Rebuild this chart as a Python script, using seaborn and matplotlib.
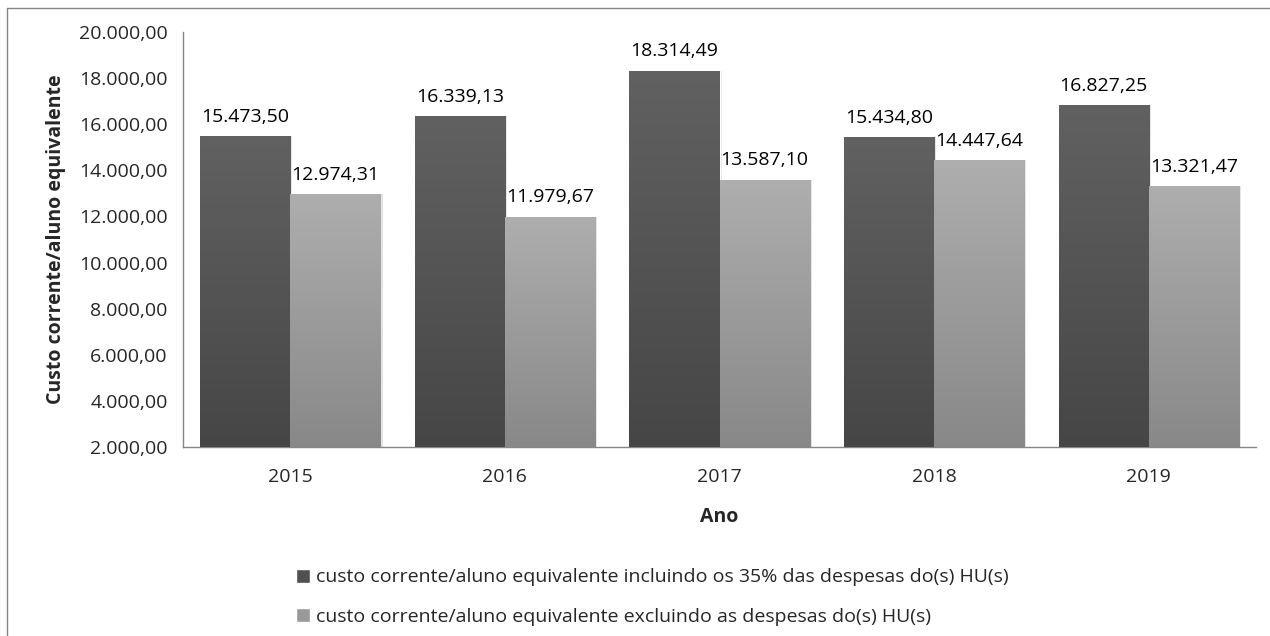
import numpy as np
import pandas as pd
import matplotlib
matplotlib.use("Agg")
import matplotlib.pyplot as plt
import seaborn as sns
from matplotlib.colors import LinearSegmentedColormap
from matplotlib.patches import Patch

anos = ["2015", "2016", "2017", "2018", "2019"]
com_hu = [15473.50, 16339.13, 18314.49, 15434.80, 16827.25]
sem_hu = [12974.31, 11979.67, 13587.10, 14447.64, 13321.47]
serie_com = "custo corrente/aluno equivalente incluindo os 35% das despesas do(s) HU(s)"
serie_sem = "custo corrente/aluno equivalente excluindo as despesas do(s) HU(s)"
yticks = [2000, 4000, 6000, 8000, 10000, 12000, 14000, 16000, 18000, 20000]


def br(v):
    # formato brasileiro 12.345,67
    s = f"{v:,.2f}"
    return s.replace(",", "X").replace(".", ",").replace("X", ".")


df = pd.DataFrame({
    "Ano": anos * 2,
    "valor": com_hu + sem_hu,
    "serie": [serie_com] * len(anos) + [serie_sem] * len(anos),
})

sns.set_style("white")
plt.rcParams["font.family"] = ["Open Sans", "DejaVu Sans"]
fs = 14

fig = plt.figure(figsize=(12.7, 6.36), dpi=100)
ax = fig.add_axes([183 / 1270, 1 - 447 / 636, (1256 - 183) / 1270, (447 - 32) / 636])

cores = {serie_com: "#545454", serie_sem: "#9c9c9c"}
sns.barplot(data=df, x="Ano", y="valor", hue="serie", palette=cores,
            width=0.84, ax=ax, legend=False, saturation=1)

ax.set_ylim(2000, 20000)
ax.set_xlim(-0.5, len(anos) - 0.5)

# gradiente vertical em cada barra, como no Excel
grad = [
    LinearSegmentedColormap.from_list("escuro", ["#464646", "#616161"]),
    LinearSegmentedColormap.from_list("claro", ["#888888", "#aeaeae"]),
]
g = np.linspace(0, 1, 256).reshape(-1, 1)
containers = list(ax.containers)
for i, cont in enumerate(containers):
    for bar in cont:
        x0, w = bar.get_x(), bar.get_width()
        y1 = bar.get_height()
        # sombra leve
        ax.bar(x0 + w / 2 + 0.01, y1 - 2000, width=w, bottom=2000,
               color="#e0e0e0", zorder=1, linewidth=0)
        bar.set_zorder(2)
        im = ax.imshow(g, cmap=grad[i], origin="lower", aspect="auto",
                       extent=(x0, x0 + w, 2000, y1), zorder=3)
        im.set_clip_path(bar)
        ax.annotate(br(y1), (x0 + w / 2, y1), xytext=(0, 7.5),
                    textcoords="offset points", ha="center", va="bottom",
                    fontsize=fs, color="black", zorder=5)

ax.set_ylim(2000, 20000)
ax.set_xlim(-0.5, len(anos) - 0.5)
ax.set_yticks(yticks)
ax.set_yticklabels([br(t) for t in yticks])
ax.set_xticks(range(len(anos)))
ax.set_xticklabels(anos)
ax.set_xticks(np.arange(-0.5, len(anos)), minor=True)
ax.tick_params(axis="x", which="major", length=0, pad=15, labelsize=fs)
ax.tick_params(axis="x", which="minor", length=5, color="#868686", direction="out")
ax.tick_params(axis="y", length=5, color="#868686", direction="out", pad=6, labelsize=fs)

for s in ["top", "right"]:
    ax.spines[s].set_visible(False)
for s in ["left", "bottom"]:
    ax.spines[s].set_color("#868686")
    ax.spines[s].set_linewidth(1)

ax.set_xlabel("Ano", fontsize=fs, fontweight="bold", labelpad=15)
ax.set_ylabel("Custo corrente/aluno equivalente", fontsize=fs, fontweight="bold", labelpad=9)

handles = [Patch(facecolor="#505050"), Patch(facecolor="#9a9a9a")]
fig.legend(handles, [serie_com, serie_sem], loc="upper left",
           bbox_to_anchor=(278 / 1270, 1 - 551 / 636), frameon=False,
           fontsize=fs, handlelength=0.75, handleheight=0.75,
           handletextpad=0.3, labelspacing=1.1)

# moldura do gráfico (a borda direita e inferior ficam fora da imagem)
fig.add_artist(plt.Line2D([7 / 1270, 7 / 1270], [0, 1 - 8 / 636],
                          transform=fig.transFigure, color="#868686", lw=1))
fig.add_artist(plt.Line2D([7 / 1270, 1], [1 - 8 / 636, 1 - 8 / 636],
                          transform=fig.transFigure, color="#868686", lw=1))

fig.savefig("out.png", dpi=100)
